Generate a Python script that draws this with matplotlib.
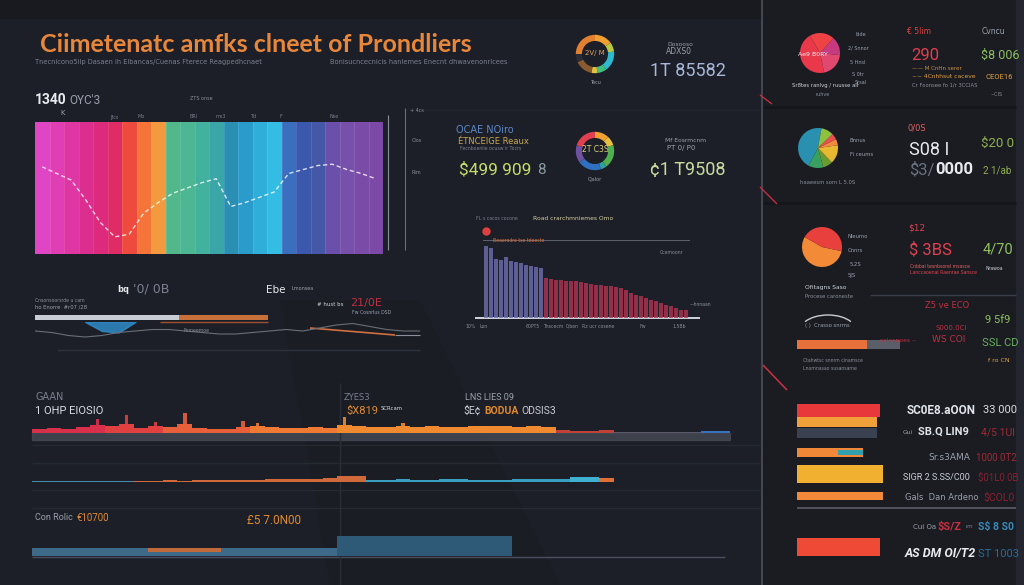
import matplotlib
matplotlib.use("Agg")
import matplotlib.pyplot as plt
import numpy as np
from matplotlib.patches import Rectangle, Arc, Polygon

# ---------------- data ----------------
band_colors = ["#df45c4", "#e03eb4", "#de36a2", "#dc2e8e", "#de2a7c", "#df2c66",
               "#ee4a3e", "#f4743a", "#f39a3e", "#52b78a", "#4db793", "#42b29e",
               "#3ba6a8", "#2b8fb4", "#2a9ccc", "#2eaed9", "#33bde4", "#3a6fc0",
               "#3b58ad", "#4558a8", "#6a50aa", "#7650aa", "#7a4ca8", "#7c4aa6"]
trend_values = [66, 61, 56, 41, 24, 13, 15, 31, 39, 46, 50, 54,
                57, 36, 39, 43, 47, 61, 64, 67, 68, 64, 61, 57]

decline_purple = [215, 210, 178, 175, 182, 170, 168, 165, 160, 155, 152, 150]
decline_red = [120, 117, 115, 113, 112, 111, 110, 108, 105, 103, 100, 99, 97, 95,
               93, 90, 85, 75, 70, 65, 60, 55, 50, 45, 40, 35, 30, 25, 23]

gauge1_share = [0.15, 0.08, 0.17, 0.08, 0.05, 0.15, 0.07, 0.25]
gauge1_colors = ["#f0a030", "#b8c840", "#30b8d0", "#40c080", "#e0c040", "#8a5a30", "#2a2d35", "#e08030"]
gauge2_share = [0.12, 0.08, 0.20, 0.05, 0.20, 0.15, 0.20]
gauge2_colors = ["#f0a030", "#e8c040", "#50b050", "#30a0a0", "#3070c0", "#7050a0", "#e04050"]

pie1_share = [0.45, 0.20, 0.15, 0.20]
pie1_colors = ["#e8384a", "#e04870", "#c83a80", "#ee4245"]
pie2_share = [0.45, 0.12, 0.08, 0.15, 0.05, 0.05, 0.10]
pie2_colors = ["#2a90b0", "#3aa060", "#6a9a30", "#e8b830", "#f08a40", "#e85050", "#90c040"]
pie3_share = [0.55, 0.45]
pie3_colors = ["#f28a38", "#e8403c"]

spend_values = [83, 80, 80, 66, 86, 86, 83]
spend_colors = ["#e8383c", "#f0a038", "#3a4150", "#f08838", "#f2b030", "#f08a38", "#ee4a35"]

skyline = [4, 5, 4, 6, 8, 7, 9, 5, 7, 6, 9, 5, 4, 4, 6, 7, 6, 5, 5, 6, 5, 8, 7, 6,
           6, 7, 6, 7, 6, 6, 7, 7, 7, 6, 7, 6, 3, 2, 2, 3, 1, 1, 1, 1, 1, 1, 2, 2]
spires = [0, 0, 0, 0, 14, 0, 18, 0, 11, 0, 20, 0, 0, 0, 12, 10, 0, 0, 0, 0, 0, 16, 0, 0,
          0, 10, 0, 0, 0, 0, 0, 0, 0, 0, 0, 0, 0, 0, 0, 0, 0, 0, 0, 0, 0, 0, 0, 0]
lowband = [1, 1, 1, 1, 1, 1, 1, 1.5, 1.5, 2, 1.5, 2, 2, 2.5, 2, 2.5, 3, 3, 3, 3.5, 4, 6, 6,
           2.5, 2.5, 3, 2.5, 2.5, 3, 3, 2.5, 2.5, 2.5, 3, 3, 3, 3.5, 5, 5, 4, 0.5, 0.5, 0.5, 0.5, 0, 0, 0, 0]
lane = [8] * 21 + [20] * 12 + [0] * 15
lane_accent = [0] * 8 + [4] * 5 + [0] * 35

progress = [62, 38]
wave = [6, 7, 9, 10, 9, 7, 6, 5, 5, 6, 7, 8, 8, 7, 6, 5, 6, 4, 2, 1, 3, 5, 6, 6]
usage = [68]

# ---------------- layout helpers ----------------
W, H = 1024, 585
BG = "#1c1f27"
fig = plt.figure(figsize=(W / 100, H / 100), dpi=100, facecolor=BG)

ov = fig.add_axes([0, 0, 1, 1], zorder=0)
ov.set_xlim(0, W); ov.set_ylim(H, 0); ov.axis("off")
tx = fig.add_axes([0, 0, 1, 1], zorder=6, facecolor="none")
tx.set_xlim(0, W); tx.set_ylim(H, 0); tx.axis("off")


def px_axes(x0, y0, x1, y1, z=2):
    ax = fig.add_axes([x0 / W, 1 - y1 / H, (x1 - x0) / W, (y1 - y0) / H], zorder=z)
    ax.set_facecolor("none")
    ax.axis("off")
    return ax


def t(x, y, s, size, color, weight="normal", ha="left", family="DejaVu Sans", style="normal"):
    tx.text(x, y, s, fontsize=size, color=color, fontweight=weight, ha=ha, va="center",
            family=family, style=style)


def seg(x0, y0, x1, y1, color, lw=0.8, alpha=1.0):
    ov.plot([x0, x1], [y0, y1], color=color, lw=lw, alpha=alpha, solid_capstyle="butt")


# ---------------- background decoration ----------------
ov.add_patch(Rectangle((0, 0), W, 18, color="#181a20"))
ov.add_patch(Rectangle((762, 0), W - 762, H, color="#1a1c22"))
ov.add_patch(Rectangle((1016, 0), 8, H, color="#23262e"))
ov.add_patch(Polygon([(280, 300), (420, 300), (560, 585), (330, 585)], closed=True,
                     color="#17191f", alpha=0.3, lw=0))
seg(762, 0, 762, H, "#4c505a", 1.2)
for y in (107, 203):
    seg(764, y, 1016, y, "#14161b", 2)
seg(870, 295, 1016, 295, "#3a3e48", 1)
seg(797, 508, 1016, 508, "#5a5e68", 1.2)
seg(760, 95, 772, 104, "#c03040", 1)
seg(760, 187, 777, 204, "#c03040", 1)
seg(763, 365, 787, 390, "#c03040", 1.2)
seg(57, 350, 420, 350, "#2e323c", 1)
seg(420, 110, 760, 110, "#232630", 1)
for y in (445, 463, 490, 508):
    seg(32, y, 760, y, "#262a33", 1)
seg(32, 557, 725, 557, "#4a5060", 1)
seg(340, 383, 340, 585, "#2a2e38", 1)
seg(388, 115, 388, 250, "#8a8e98", 0.8)
seg(405, 108, 405, 250, "#6a6e78", 0.8)
ov.add_patch(Rectangle((32, 433), 698, 7, color="#454a55", alpha=0.8))

# ---------------- rainbow banded chart ----------------
ax = px_axes(35, 122, 383, 254)
n = len(band_colors)
ax.bar(range(n), [100] * n, width=1.0, color=band_colors, align="center", linewidth=0)
for i in range(n - 1):
    ax.axvline(i + 0.5, color="white", alpha=0.12, lw=0.6)
ax.plot(range(n), trend_values, color="white", lw=1.0, ls=(0, (3, 2)), alpha=0.8)
ax.set_xlim(-0.5, n - 0.5); ax.set_ylim(0, 100)

# ---------------- gauges ----------------
g1 = px_axes(570, 30, 620, 78)
g1.pie(gauge1_share, colors=gauge1_colors, startangle=90, counterclock=False,
       wedgeprops=dict(width=0.32, linewidth=0))
g1.set_aspect("equal")
g2 = px_axes(570, 127, 620, 175)
g2.pie(gauge2_share, colors=gauge2_colors, startangle=90, counterclock=False,
       wedgeprops=dict(width=0.32, linewidth=0))
g2.set_aspect("equal")

# ---------------- declining bar chart ----------------
bx = px_axes(483, 228, 690, 318)
vals = decline_purple + decline_red
cols = ["#6e70b0"] * len(decline_purple) + ["#b03552"] * len(decline_red)
bx.bar(range(len(vals)), vals, width=0.85, color=cols, alpha=0.8, linewidth=0)
bx.plot([0], [262], marker="o", ms=5, color="#e04040", clip_on=False)
bx.axhline(235, color="#6a6e78", lw=0.6)
bx.axvline(len(vals) - 0.3, ymax=235 / 270, color="#6a6e78", lw=0.6)
bx.set_xlim(-0.6, len(vals) - 0.2); bx.set_ylim(0, 270)
seg(475, 318, 700, 318, "#d0d4dc", 1.4)

# ---------------- pies (right panel) ----------------
for (cx, cy, share, colors, start) in [(820, 53, pie1_share, pie1_colors, 120),
                                       (818, 148, pie2_share, pie2_colors, 80),
                                       (822, 247, pie3_share, pie3_colors, 150)]:
    p = px_axes(cx - 25, cy - 25, cx + 25, cy + 25)
    p.pie(share, colors=colors, startangle=start, wedgeprops=dict(linewidth=0))
    p.set_aspect("equal")

# ---------------- horizontal spend bars ----------------
row_pos = [410, 422, 433, 452, 474, 496, 547]
row_thick = [13, 10, 10, 9, 18, 8, 18]
hx = px_axes(797, 400, 1016, 560)
hx.barh(row_pos, spend_values, height=row_thick, color=spend_colors, linewidth=0)
hx.barh([452], [25], left=[41], height=[5], color="#30a0b0", linewidth=0)
hx.set_xlim(0, 219); hx.set_ylim(560, 400)

ux = px_axes(797, 339, 900, 350)
ux.barh([0], usage, color="#e8703a", height=0.8, linewidth=0)
ux.barh([0], [100 - usage[0]], left=usage, color="#5a5e68", height=0.8, linewidth=0)
ux.set_xlim(0, 100); ux.set_ylim(-0.5, 0.5)
ov.add_patch(Arc((828, 330), 55, 30, theta1=200, theta2=340, color="#c8ccd4", lw=1))

# ---------------- left middle strip ----------------
sx = px_axes(35, 312, 268, 322)
sx.barh([0], [progress[0]], color="#c8ccd4", height=0.5, linewidth=0)
sx.barh([0], [progress[1]], left=[progress[0]], color="#c8703a", height=0.5, linewidth=0)
sx.set_xlim(0, 100); sx.set_ylim(-0.5, 0.5)
wx = px_axes(35, 322, 420, 340)
wx.plot(range(len(wave)), wave, color="#6a6e78", lw=0.8)
wx.fill_between(range(3, 7), [0, 6, 7, 0], color="#3090d0", alpha=0.8)
wx.set_xlim(0, len(wave) - 1); wx.set_ylim(12, 0)
seg(160, 322, 268, 322, "#a05030", 1)
seg(310, 328, 395, 335, "#d07040", 1.2)
seg(395, 335, 420, 335, "#8a8e98", 0.8)

# ---------------- bottom strips ----------------
def idx_colors(n, spans):
    out = []
    for color, count in spans:
        out += [color] * count
    return out[:n]

k1 = px_axes(32, 400, 730, 433)
c1 = idx_colors(len(skyline), [("#d8304a", 5), ("#e04040", 4), ("#e8603a", 6), ("#ef7a34", 6),
                               ("#f08a30", 15), ("#c0403a", 4), ("#5a5a6a", 6), ("#3a70c0", 2)])
k1.bar(range(len(skyline)), skyline, width=1.0, color=c1, linewidth=0)
k1.bar(range(len(spires)), spires, width=0.25, color=c1, linewidth=0, alpha=0.9)
k1.set_xlim(-0.5, len(skyline) - 0.5); k1.set_ylim(0, 33)

k2 = px_axes(32, 466, 730, 482)
c2 = idx_colors(len(lowband), [("#4a8ab0", 7), ("#d06a3a", 16), ("#3aa0c0", 14), ("#40b0d0", 2),
                               ("#e07035", 1), ("#6a6e78", 8)])
k2.bar(range(len(lowband)), lowband, width=1.0, color=c2, linewidth=0)
k2.set_xlim(-0.5, len(lowband) - 0.5); k2.set_ylim(0, 16)

k3 = px_axes(32, 532, 730, 556)
k3.bar(range(len(lane)), lane, width=1.0, color=["#3c6a88"] * 21 + ["#2e5a78"] * 27, linewidth=0)
k3.bar(range(len(lane_accent)), lane_accent, bottom=4, width=1.0, color="#c06a3a", linewidth=0)
k3.set_xlim(-0.5, len(lane) - 0.5); k3.set_ylim(0, 24)

# ---------------- texts ----------------
R = "Roboto"
t(40, 44, "Ciimetenatc amfks clneet of Prondliers", 18, "#e8873a", "bold", family="Lato")
t(35, 62, "Tnecnicono5ilp Dasaen ih Elbancas/Cuenas Fterece Reagpedhcnaet", 4.8, "#7a8090")
t(330, 62, "Bonisucncecnicis hanlemes Enecnt dhwavenonrlcees", 4.8, "#7a8090")
t(35, 100, "1340", 10, "#e8eaf0", "bold", family=R)
t(69, 100, "OYC'3", 8.5, "#9aa0ac", family=R)
t(60, 113, "K", 5, "#9aa0ac")
for x, s in [(110, "Jfcs"), (138, "Mo"), (190, "BRl"), (215, "ms3"), (250, "Td"), (280, "F"), (330, "Nse")]:
    t(x, 117, s, 3.5, "#7a8090")
t(190, 98, "ZTS onse", 3.5, "#8a8e98")
t(410, 110, "+ 4cs", 3.5, "#8a8e98")
t(412, 140, "Clos", 3.5, "#8a8e98")
t(412, 172, "Rim", 3.5, "#8a8e98")

t(667, 44, "Dosooso", 4.3, "#9aa0ac")
t(666, 52, "ADXS0", 5.5, "#9aa0ac")
t(650, 71, "1T 85582", 13, "#a8b8d8", family=R)
t(595, 53, "2V/ M", 5, "#e0a060", ha="center")
t(595, 82, "Tecu", 3.5, "#9aa0ac", ha="center")
t(456, 130, "OCAE NOiro", 7, "#5a88c8")
t(458, 142, "ÉTNCEIGE Reaux", 6, "#c8a850")
t(460, 149, "Fecnboeniie ocusw ir Tocrs", 3.3, "#7a8090")
t(459, 170, "$499 909", 12.5, "#c4dc6a", family=R)
t(537, 170, "8", 11, "#8a9aa0", family=R)
t(595, 150, "2T C3S", 5.5, "#e0d080", ha="center")
t(595, 180, "Cjalor", 3.5, "#9aa0ac", ha="center")
t(665, 140, "Mf Eosrmcnm", 4.3, "#9aa0ac")
t(667, 148, "PT 0/ P0", 5, "#9aa0ac")
t(650, 170, "¢1 T9508", 13, "#c8dca0", family=R)

t(533, 219, "Road crarchmniemes Omo", 4.3, "#d8d0a0")
t(476, 218, "FL s cacos cocone", 3.3, "#7a8090")
t(493, 240, "Beaerodre tse tdeecto", 3.3, "#e07040")
t(660, 252, "Ccemoonr", 3.3, "#8a8e98")
t(690, 304, "—hnnaan", 3.3, "#8a8e98")
for x, s in [(465, "10%"), (480, "Lon"), (526, "60PT5"), (543, "Tnscecm"), (566, "0/ben"),
             (582, "Rz ucr cosene"), (640, "Fw"), (672, "1.5Bb")]:
    t(x, 326, s, 3.3, "#8a8e98")

t(117, 289, "bq", 6, "#e8eaf0", "bold")
t(133, 289, "'0/ 0B", 9, "#7a8090")
t(266, 290, "Ebe", 7.5, "#e8eaf0")
t(291, 288, "Lmonsea", 3.5, "#9aa0ac")
t(35, 300, "Cnsonsoorsrde u cam", 3.3, "#8a8e98")
t(35, 307, "ho Enorre  #r07 /28", 3.8, "#9aa0ac")
t(317, 305, "# hust bs", 4, "#d0d4dc")
t(350, 303, "21/0E", 8, "#c03040")
t(352, 313, "Fw Cosnrlus DSD", 3.3, "#9aa0ac")
t(183, 330, "Fomeemoe", 3.3, "#8a8e98")

t(35, 397, "GAAN", 7, "#7a8090")
t(35, 411, "1 OHP EIOSIO", 8, "#d8dce4", family=R)
t(344, 397, "ZYES3", 6, "#7a8090")
t(346, 411, "$X819", 8, "#e08a30", family=R)
t(381, 409, "SCRcam", 3.8, "#d8dce4")
t(465, 397, "LNS LIES 09", 6.5, "#9aa0ac", family=R)
t(463, 411, "$E¢", 7.5, "#c8ccd4", family=R)
t(484, 411, "BODUA", 7.5, "#e08a30", "bold", family=R)
t(521, 411, "ODSIS3", 7.5, "#c8ccd4", family=R)
t(35, 518, "Con Rolic", 6.5, "#9aa0ac", family=R)
t(77, 518, "€10700", 7, "#e08a30", family=R)
t(247, 520, "£5 7.0N00", 8.5, "#e08a30", family=R)

# right panel texts
t(907, 32, "€ 5lim", 5.5, "#e04040")
t(982, 32, "Cvncu", 5.5, "#9aa0ac")
t(911, 55, "290", 12, "#e04050", family=R)
t(981, 55, "$8 006", 9, "#8cc060", family=R)
t(912, 68, "—— M CnHn serer", 4, "#c89040")
t(912, 76, "~~ 4Cnhhsut caceve", 4.3, "#e0a040")
t(912, 85, "Cr Foonsee fo 1/r 3CCIAS", 3.8, "#8a8e98")
t(985, 77, "CEOE16", 5.5, "#e0a040", family=R)
t(990, 95, "~ClS", 3.5, "#8a8e98")
t(813, 54, "Ae9 B0RY", 4.5, "#f0f0f0", ha="center")
for x, y, s in [(855, 35, "ldde"), (848, 48, "2/ Snnor"), (850, 63, "5 Hnsl"), (852, 75, "S 0tr"), (855, 82, "Srsal")]:
    t(x, y, s, 3.5, "#9aa0ac")
t(792, 85, "Sr8tes ranlvg / ruusse air", 3.8, "#d0d4dc")
t(815, 95, "ruhve", 3.5, "#8a8e98")
t(908, 128, "0/0S", 6, "#e06060")
t(909, 150, "S08 I", 13, "#e8eaf0", family=R)
t(909, 170, "$3/", 12, "#6a7080", family=R)
t(935, 170, "0000", 12, "#e8eaf0", "bold", family=R)
t(981, 143, "$20 0", 9.5, "#90b050", family=R)
t(983, 170, "2 1/ab", 7, "#90b050", family=R)
t(850, 140, "Bnnus", 3.8, "#9aa0ac")
t(850, 154, "Fi ceums", 3.8, "#9aa0ac")
t(800, 183, "haaeesm sorn L 5.0S", 3.8, "#8a8e98")
t(908, 228, "$12", 6.5, "#e04050")
t(909, 250, "$ 3BS", 12, "#e04050", family=R)
t(983, 250, "4/70", 10.5, "#90c060", family=R)
t(910, 266, "Cnbbai tesnbsorel msasce", 3.3, "#e06060")
t(910, 273, "Lanccaoenal Raenrae Sansce", 3.3, "#e04050")
t(985, 268, "Nrawoa", 3.3, "#d0d4dc")
t(848, 236, "Nleumo", 3.8, "#9aa0ac")
t(848, 250, "Cnnrs", 3.8, "#9aa0ac")
t(850, 265, "5.2S", 3.8, "#9aa0ac")
t(848, 276, "5JS", 3.8, "#9aa0ac")
t(805, 288, "Ofitagns Saso", 4.3, "#d0d4dc")
t(805, 296, "Procese caroneste", 3.8, "#8a8e98")

t(805, 325, "( )  Crasso snrms", 3.8, "#9aa0ac")
t(803, 361, "Ctahwtsc snnrm cinamsce", 3.3, "#8a8e98")
t(803, 368, "Lnomnasao susansarne", 3.3, "#8a8e98")
t(925, 305, "Z5 ve ECO", 6, "#c03040")
t(935, 328, "S000.0Cl", 5, "#c03040")
t(880, 340, "salecnoes --", 4.3, "#c03040")
t(932, 340, "WS COI", 6.5, "#c03040")
t(985, 320, "9 5f9", 8, "#8cc060", family=R)
t(982, 343, "SSL CD", 8, "#6ab060", family=R)
t(988, 361, "f ro CN", 4.5, "#e0a040")

t(907, 410, "SC0E8.aOON", 8.5, "#e0e4ea", "bold", family=R)
t(903, 432, "Gui", 4.3, "#9aa0ac")
t(918, 432, "SB.Q LIN9", 8, "#e0e4ea", "bold", family=R)
t(928, 458, "Sr.s3AMA", 6.5, "#9aa0ac")
t(903, 478, "SIGR 2 S.SS/C00", 6.5, "#c8ccd4", family=R)
t(905, 497, "Gals  Dan Ardeno", 6, "#9aa0ac")
t(913, 527, "Cui Oa", 5, "#9aa0ac")
t(937, 527, "$S/Z", 8, "#c83040", "bold", family=R)
t(965, 527, "rm", 4, "#7a8090")
t(905, 554, "AS DM OI/T2", 9, "#e8eaf0", "bold", style="italic", family=R)
t(983, 410, "33 000", 8, "#d8dce0", family=R)
t(981, 432, "4/5 1UI", 7.5, "#a02a35", family=R)
t(976, 458, "1000 0T2", 7, "#a02a35", family=R)
t(978, 478, "$01L0 0B", 7, "#8a2030", family=R)
t(983, 498, "$COL0", 7.5, "#8a2030", family=R)
t(978, 527, "S$ 8 S0", 7.5, "#3a8ab8", "bold", family=R)
t(978, 554, "ST 1003", 8, "#2a6a98", family=R)

fig.savefig("out.png", dpi=100, facecolor=BG)
